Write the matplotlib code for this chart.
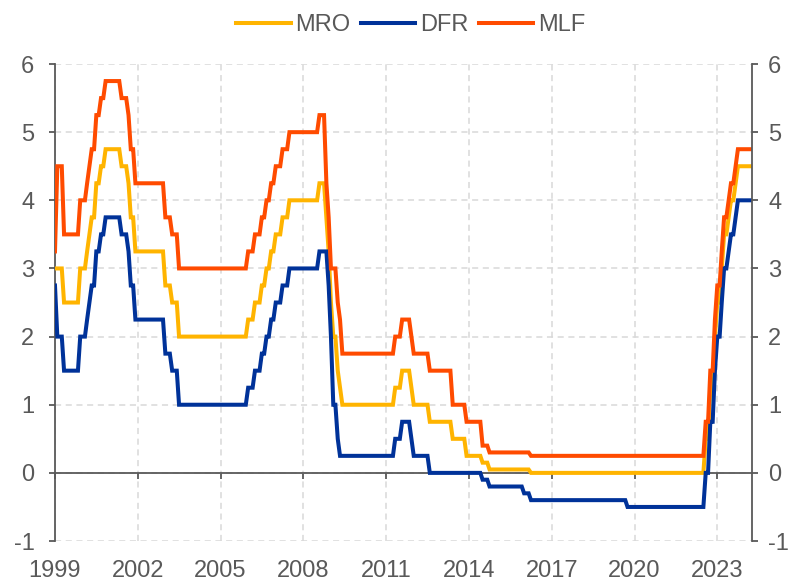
import matplotlib
matplotlib.use("Agg")
import matplotlib.pyplot as plt
import pandas as pd

plt.rcParams['font.family'] = ['Liberation Sans', 'DejaVu Sans']
plt.rcParams['axes.unicode_minus'] = False

# ECB policy rate changes (effective date, MRO, DFR, MLF)
change_dates = [
    "1999-01-01", "1999-01-22", "1999-04-09", "1999-11-05", "2000-02-04",
    "2000-03-17", "2000-04-28", "2000-06-09", "2000-09-01", "2000-10-06",
    "2001-05-11", "2001-08-31", "2001-09-18", "2001-11-09", "2002-12-06",
    "2003-03-07", "2003-06-06", "2005-12-06", "2006-03-08", "2006-06-15",
    "2006-08-09", "2006-10-11", "2006-12-13", "2007-03-14", "2007-06-13",
    "2008-07-09", "2008-10-09", "2008-10-15", "2008-11-12", "2008-12-10",
    "2009-01-21", "2009-03-11", "2009-04-08", "2009-05-13", "2011-04-13",
    "2011-07-13", "2011-11-09", "2011-12-14", "2012-07-11", "2013-05-08",
    "2013-11-13", "2014-06-11", "2014-09-10", "2015-12-09", "2016-03-16",
    "2019-09-18", "2022-07-27", "2022-09-14", "2022-11-02", "2022-12-21",
    "2023-02-08", "2023-03-22", "2023-05-10", "2023-06-21", "2023-08-02",
    "2023-09-20",
]
mro = [
    3.00, 3.00, 2.50, 3.00, 3.25, 3.50, 3.75, 4.25, 4.50, 4.75,
    4.50, 4.25, 3.75, 3.25, 2.75, 2.50, 2.00, 2.25, 2.50, 2.75,
    3.00, 3.25, 3.50, 3.75, 4.00, 4.25, 4.25, 3.75, 3.25, 2.50,
    2.00, 1.50, 1.25, 1.00, 1.25, 1.50, 1.25, 1.00, 0.75, 0.50,
    0.25, 0.15, 0.05, 0.05, 0.00, 0.00, 0.50, 1.25, 2.00, 2.50,
    3.00, 3.50, 3.75, 4.00, 4.25, 4.50,
]
dfr = [
    2.75, 2.00, 1.50, 2.00, 2.25, 2.50, 2.75, 3.25, 3.50, 3.75,
    3.50, 3.25, 2.75, 2.25, 1.75, 1.50, 1.00, 1.25, 1.50, 1.75,
    2.00, 2.25, 2.50, 2.75, 3.00, 3.25, 3.25, 3.25, 2.75, 2.00,
    1.00, 0.50, 0.25, 0.25, 0.50, 0.75, 0.50, 0.25, 0.00, 0.00,
    0.00, -0.10, -0.20, -0.30, -0.40, -0.50, 0.00, 0.75, 1.50, 2.00,
    2.50, 3.00, 3.25, 3.50, 3.75, 4.00,
]
mlf = [
    3.25, 4.50, 3.50, 4.00, 4.25, 4.50, 4.75, 5.25, 5.50, 5.75,
    5.50, 5.25, 4.75, 4.25, 3.75, 3.50, 3.00, 3.25, 3.50, 3.75,
    4.00, 4.25, 4.50, 4.75, 5.00, 5.25, 4.25, 4.25, 3.75, 3.00,
    3.00, 2.50, 2.25, 1.75, 2.00, 2.25, 2.00, 1.75, 1.50, 1.00,
    0.75, 0.40, 0.30, 0.30, 0.25, 0.25, 0.75, 1.50, 2.25, 2.75,
    3.25, 3.75, 4.00, 4.25, 4.50, 4.75,
]
series_names = ["MRO", "DFR", "MLF"]
colors = ["#FFB400", "#003299", "#FF4B00"]
year_ticks = list(range(1999, 2024, 3))
y_ticks = list(range(-1, 7))

GREY = "#595959"

# sample the step series at the start of each month
idx = pd.DatetimeIndex(pd.to_datetime(change_dates))
months = pd.date_range("1999-01-01", "2024-04-01", freq="MS")
df = pd.DataFrame({"MRO": mro, "DFR": dfr, "MLF": mlf}, index=idx)
monthly = df.reindex(idx.union(months)).ffill().loc[months]
x = months.year + (months.dayofyear - 1) / 365.25

fig = plt.figure(figsize=(7.9, 5.81), dpi=100)
ax = fig.add_axes([0.0696, 0.0688, 0.882, 0.821])

for name, c in zip(series_names, colors):
    ax.plot(x, monthly[name].values, color=c, lw=2.9, label=name,
            solid_joinstyle="miter", zorder=3)

ax.set_xlim(x[0], x[-1])
ax.set_ylim(-1, 6)
ax.set_yticks(y_ticks)
ax.set_xticks(year_ticks)
ax.grid(True, color="#D9D9D9", lw=1.1, ls=(0, (4, 3)), zorder=0)

ax.spines["top"].set_visible(False)
ax.spines["right"].set_visible(False)
ax.spines["left"].set_color(GREY)
ax.spines["left"].set_linewidth(1.3)
ax.spines["bottom"].set_position(("data", 0))
ax.spines["bottom"].set_color(GREY)
ax.spines["bottom"].set_linewidth(1.3)

ax.tick_params(axis="x", direction="out", length=4.3, width=1.3, color=GREY,
               labelbottom=False)
ax.tick_params(axis="y", direction="out", length=4.3, width=1.3, color=GREY,
               labelsize=17, labelcolor=GREY, pad=10.5)

# right-hand axis mirrors the left one
ax2 = ax.twinx()
ax2.set_ylim(ax.get_ylim())
ax2.set_yticks(y_ticks)
for s in ["top", "left", "bottom"]:
    ax2.spines[s].set_visible(False)
ax2.spines["right"].set_color(GREY)
ax2.spines["right"].set_linewidth(1.3)
ax2.tick_params(axis="y", direction="out", length=4.3, width=1.3, color=GREY,
                labelsize=17, labelcolor=GREY, pad=7.5)

# year labels sit below the plot, the axis line itself crosses at zero
sec = ax.secondary_xaxis(0.0)
sec.set_xticks(year_ticks)
sec.set_xticklabels([str(y) for y in year_ticks])
sec.tick_params(length=0, labelsize=17, labelcolor=GREY, pad=14)
sec.spines["bottom"].set_visible(False)

fig.legend(*ax.get_legend_handles_labels(), loc="center",
           bbox_to_anchor=(0.52, 0.957), ncol=3,
           frameon=False, fontsize=17, labelcolor=GREY, handlelength=2.3,
           handletextpad=0.2, columnspacing=0.45)

fig.savefig("out.png", dpi=100)
